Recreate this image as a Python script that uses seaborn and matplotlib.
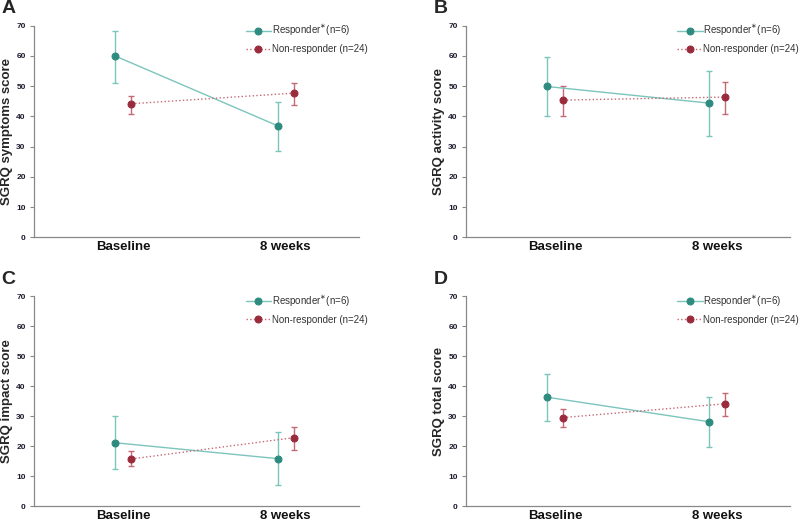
import numpy as np
import pandas as pd
import matplotlib
matplotlib.use("Agg")
import matplotlib.pyplot as plt
import seaborn as sns

sns.set_theme(style="white")
plt.rcParams['font.family'] = ['Liberation Sans', 'DejaVu Sans']

# Data
timepoints = ["Baseline", "8 weeks"]
groups = ["Responder", "Non-responder"]
group_labels = [r"Responder$^{\ast}$(n=6)", "Non-responder (n=24)"]
panel_letters = ["A", "B", "C", "D"]
ylabels = ["SGRQ symptoms score", "SGRQ activity score",
           "SGRQ impact score", "SGRQ total score"]

# mean, lower bound, upper bound per panel, [baseline, 8 weeks]
resp_mean = [[60.0, 36.9], [49.9, 44.4], [21.1, 15.8], [36.3, 28.1]]
resp_low = [[51.1, 28.6], [40.0, 33.5], [12.2, 6.9], [28.3, 19.6]]
resp_high = [[68.4, 44.8], [59.5, 55.1], [29.9, 24.6], [44.1, 36.4]]
non_mean = [[44.2, 47.7], [45.4, 46.4], [15.7, 22.8], [29.5, 34.1]]
non_low = [[40.9, 43.8], [40.2, 40.9], [13.3, 18.8], [26.3, 30.1]]
non_high = [[46.9, 51.2], [50.2, 51.4], [18.3, 26.2], [32.5, 37.7]]

marker_colors = ["#2E8B7F", "#9A2B3C"]
line_colors = ["#7CC5BC", "#C46A76"]
styles = ["-", ":"]
offsets = [-0.05, 0.05]

fig = plt.figure(figsize=(8, 5.26), dpi=100)
positions = [
    [0.0425, 0.549, 0.406, 0.402],
    [0.5825, 0.549, 0.405, 0.402],
    [0.0425, 0.038, 0.406, 0.399],
    [0.5825, 0.038, 0.405, 0.399],
]

for i in range(4):
    ax = fig.add_axes(positions[i])
    means = [resp_mean[i], non_mean[i]]
    lows = [resp_low[i], non_low[i]]
    highs = [resp_high[i], non_high[i]]
    for g in range(2):
        xs = np.arange(len(timepoints)) + offsets[g]
        df = pd.DataFrame({"x": xs, "y": means[g]})
        m = np.array(means[g])
        yerr = [m - np.array(lows[g]), np.array(highs[g]) - m]
        ax.errorbar(xs, m, yerr=yerr, fmt="none", ecolor=line_colors[g],
                    elinewidth=1.0, capsize=2.5, capthick=1.0, zorder=2)
        sns.lineplot(data=df, x="x", y="y", ax=ax, color=line_colors[g],
                     linestyle=styles[g], linewidth=1.0, marker="o",
                     markersize=5, markerfacecolor=marker_colors[g],
                     markeredgecolor=marker_colors[g], label=group_labels[g],
                     zorder=3)
    ax.set_xlim(-0.55, 1.45)
    ax.set_ylim(0, 70)
    ax.set_yticks(range(0, 71, 10))
    ax.set_xticks(range(len(timepoints)))
    ax.set_xticklabels(timepoints, fontsize=9.5, fontweight="bold")
    for lab in ax.get_yticklabels():
        lab.set_fontweight("bold")
        lab.set_fontsize(6)
        lab.set_color("#1a1a2e")
    ax.tick_params(axis="x", length=0, pad=3, colors="#111111")
    ax.tick_params(axis="y", length=3, width=0.8, color="#888888", pad=3, left=True)
    ax.set_xlabel("")
    ax.set_ylabel(ylabels[i], fontsize=9.5, fontweight="bold", labelpad=2)
    sns.despine(ax=ax)
    for s in ["left", "bottom"]:
        ax.spines[s].set_color("#888888")
        ax.spines[s].set_linewidth(0.9)
    leg = ax.legend(loc="upper left", bbox_to_anchor=(0.64, 1.03), frameon=False,
                    fontsize=7, handlelength=2.6, handletextpad=0.1,
                    labelspacing=0.6, borderaxespad=0)
    for t in leg.get_texts():
        t.set_color("#333333")
    ax.text(-0.1, 1.08, panel_letters[i], transform=ax.transAxes, fontsize=14,
            fontweight="bold", ha="left", va="center")

fig.savefig("out.png", dpi=100)
